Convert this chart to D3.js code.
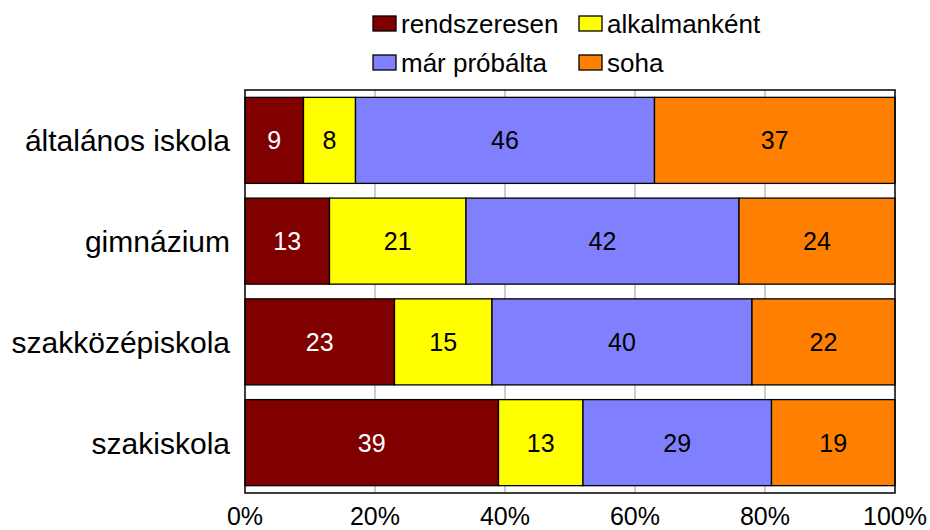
<!DOCTYPE html>
<html>
<head>
<meta charset="utf-8">
<script src="https://cdn.jsdelivr.net/npm/d3@7"></script>
<style>
  body { margin: 0; background: #fff; }
  text { font-family: "Liberation Sans", Arial, sans-serif; }
</style>
</head>
<body>
<div id="chart"></div>
<script>
const categories = ['általános iskola', 'gimnázium', 'szakközépiskola', 'szakiskola'];
const seriesNames = ['rendszeresen', 'alkalmanként', 'már próbálta', 'soha'];
const rendszeresen = [9, 13, 23, 39];
const alkalmankent = [8, 21, 15, 13];
const marProbalta = [46, 42, 40, 29];
const soha = [37, 24, 22, 19];
const tickValues = [0, 20, 40, 60, 80, 100];

const colors = ['#800000', '#FFFF00', '#8080FF', '#FF8000'];
const labelColors = ['#ffffff', '#000000', '#000000', '#000000'];

const width = 930, height = 530,
  margin = { left: 245, top: 90, right: 35, bottom: 37 };

const svg = d3.select('#chart')
  .append('svg')
  .attr('width', width)
  .attr('height', height)

const x = d3.scaleLinear().domain([0, 100]).range([margin.left, width - margin.right])
const y = d3.scaleBand().domain(categories)
  .range([margin.top, height - margin.bottom])
  .paddingInner(0.146).paddingOuter(0.073)

const rows = categories.map((c, i) => ({
  cat: c, rendszeresen: rendszeresen[i], alkalmankent: alkalmankent[i],
  marProbalta: marProbalta[i], soha: soha[i]
}));
const keys = ['rendszeresen', 'alkalmankent', 'marProbalta', 'soha'];
const stacked = d3.stack().keys(keys)(rows);

// gridlines
svg.append('g')
  .selectAll('line')
  .data(tickValues.slice(1, -1))
  .enter()
  .append('line')
  .attr('x1', d => x(d)).attr('x2', d => x(d))
  .attr('y1', margin.top).attr('y2', height - margin.bottom)
  .attr('stroke', '#999')
  .attr('stroke-width', 1)

const layers = svg.append('g')
  .selectAll('g')
  .data(stacked)
  .enter()
  .append('g')

layers.selectAll('rect')
  .data(d => d)
  .enter()
  .append('rect')
  .attr('x', d => x(d[0]))
  .attr('y', d => y(d.data.cat))
  .attr('width', d => x(d[1]) - x(d[0]))
  .attr('height', y.bandwidth())
  .attr('fill', function () { return colors[d3.select(this.parentNode).datum().index]; })
  .attr('stroke', '#000')
  .attr('stroke-width', 1.3)

layers.selectAll('text')
  .data(d => d)
  .enter()
  .append('text')
  .attr('x', d => (x(d[0]) + x(d[1])) / 2)
  .attr('y', d => y(d.data.cat) + y.bandwidth() / 2 + 9)
  .attr('text-anchor', 'middle')
  .attr('font-size', 25)
  .attr('fill', function () { return labelColors[d3.select(this.parentNode).datum().index]; })
  .text(d => d[1] - d[0])

// frame
svg.append('rect')
  .attr('x', margin.left).attr('y', margin.top)
  .attr('width', x(100) - x(0))
  .attr('height', height - margin.bottom - margin.top)
  .attr('fill', 'none')
  .attr('stroke', '#000')
  .attr('stroke-width', 1.5)

// category labels
svg.append('g')
  .selectAll('text')
  .data(categories)
  .enter()
  .append('text')
  .attr('x', margin.left - 15)
  .attr('y', d => y(d) + y.bandwidth() / 2 + 11)
  .attr('text-anchor', 'end')
  .attr('font-size', 30)
  .text(d => d)

// x tick labels
svg.append('g')
  .selectAll('text')
  .data(tickValues)
  .enter()
  .append('text')
  .attr('x', d => x(d))
  .attr('y', 525)
  .attr('text-anchor', 'middle')
  .attr('font-size', 25)
  .text(d => d + '%')

// legend
const legendPos = [[373, 16], [579, 16], [373, 55], [579, 55]];
const legend = svg.append('g')
  .selectAll('g')
  .data(seriesNames)
  .enter()
  .append('g')
  .attr('transform', (d, i) => `translate(${legendPos[i][0]},${legendPos[i][1]})`)
legend.append('rect')
  .attr('width', 23).attr('height', 15)
  .attr('fill', (d, i) => colors[i])
  .attr('stroke', '#000')
  .attr('stroke-width', 1.3)
legend.append('text')
  .attr('x', 28).attr('y', 17)
  .attr('font-size', 26)
  .text(d => d)
</script>
</body>
</html>
